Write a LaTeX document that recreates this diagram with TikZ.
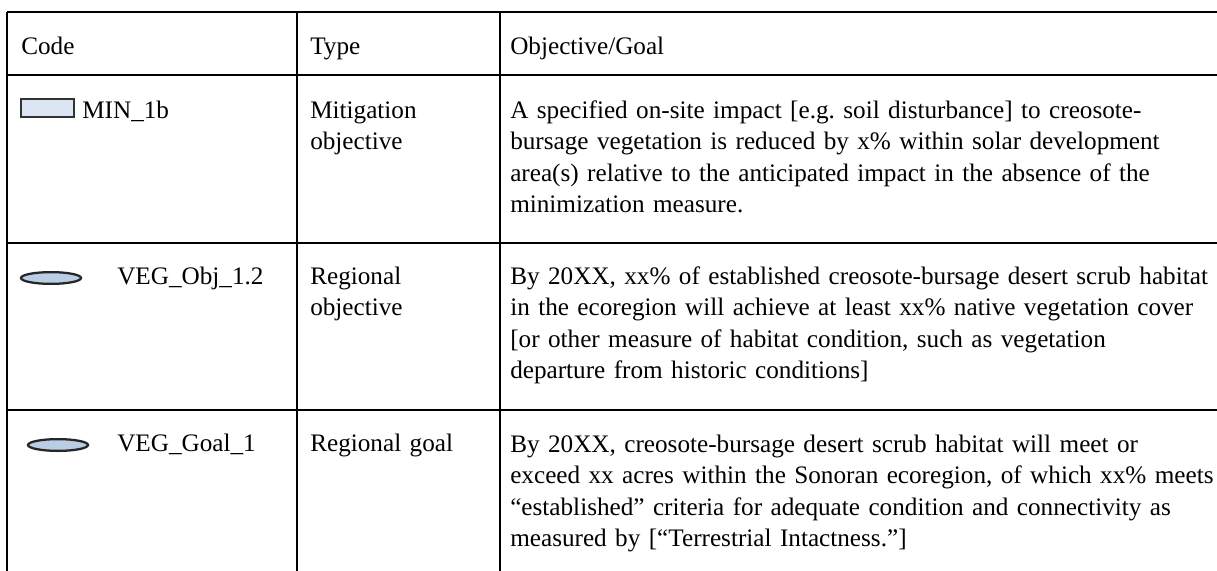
\documentclass[tikz,border=0pt]{standalone}
\usepackage{fontspec}
\setmainfont{Liberation Serif}
\usetikzlibrary{shapes.geometric}
\frenchspacing
\begin{document}
\begin{tikzpicture}[x=0.75pt,y=-0.75pt,
  rule/.style={line width=1pt,black},
  celltext/.style={anchor=base west,inner sep=0pt,font=\fontsize{18.9}{23.7}\selectfont,
    text width=#1,align=left},
  celltext/.default=580pt,
  recticon/.style={rectangle,draw=black!80,line width=1pt,
    fill={rgb,255:red,220;green,230;blue,242},minimum width=39.75pt,minimum height=13.5pt,inner sep=0pt},
  ellicon/.style={ellipse,draw=black!85,line width=1.7pt,fill={rgb,255:red,185;green,205;blue,229},
    minimum width=45pt,minimum height=8.8pt,inner sep=0pt}]
\useasboundingbox (0,0) rectangle (1217,571);

% table rules: open on the right and at the bottom
\draw[rule] (7,12) -- (1217,12);
\draw[rule] (7,75) -- (1217,75);
\draw[rule] (7,243) -- (1217,243);
\draw[rule] (7,410) -- (1217,410);
\draw[rule] (7,12) -- (7,571);
\draw[rule] (297,12) -- (297,571);
\draw[rule] (500,12) -- (500,571);

% header row
\node[celltext=200pt] (hcode) at (21,54) {Code};
\node[celltext=140pt] (htype) at (310,54) {Type};
\node[celltext] (hgoal) at (510,54) {Objective/Goal};

% row 1
\node[recticon] (i1) at (47.5,108) {};
\node[celltext=150pt] (c1) at (82,118) {MIN\_1b};
\node[celltext=140pt] (t1) at (310,118) {Mitigation\\objective};
\node[celltext] (g1) at (510,118) {A specified on-site impact [e.g. soil disturbance] to creosote-\\
bursage vegetation is reduced by x\% within solar development\\
area(s) relative to the anticipated impact in the absence of the\\
minimization measure.};

% row 2
\node[ellicon] (i2) at (51,278) {};
\node[celltext=150pt] (c2) at (117,284) {VEG\_Obj\_1.2};
\node[celltext=140pt] (t2) at (310,284) {Regional\\objective};
\node[celltext] (g2) at (510,284) {By 20XX, xx\% of established creosote-bursage desert scrub habitat\\
in the ecoregion will achieve at least xx\% native vegetation cover\\
{[}or other measure of habitat condition, such as vegetation\\
departure from historic conditions]};

% row 3
\node[ellicon] (i3) at (58,445) {};
\node[celltext=150pt] (c3) at (117,451) {VEG\_Goal\_1};
\node[celltext=140pt] (t3) at (310,451) {Regional goal};
\node[celltext] (g3) at (510,452) {By 20XX, creosote-bursage desert scrub habitat will meet or\\
exceed xx acres within the Sonoran ecoregion, of which xx\% meets\\
“established” criteria for adequate condition and connectivity as\\
measured by [“Terrestrial Intactness.”]};
\end{tikzpicture}
\end{document}
